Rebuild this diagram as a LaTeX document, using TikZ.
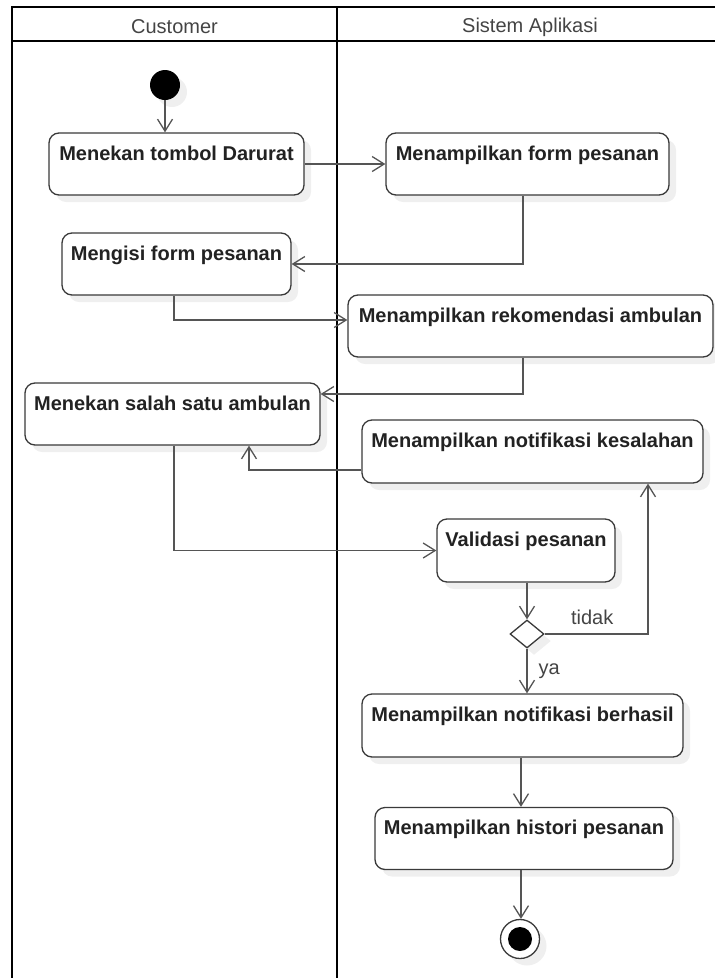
\documentclass[tikz,border=0pt]{standalone}
\usepackage{fontspec}
\setmainfont{Liberation Sans}
\usetikzlibrary{arrows.meta,shadows,shapes.geometric,calc}

\definecolor{laneclr}{HTML}{000000}
\definecolor{boxclr}{HTML}{3A3A3A}
\definecolor{lineclr}{HTML}{555555}
\definecolor{textclr}{HTML}{222222}
\definecolor{lblclr}{HTML}{444444}
\definecolor{shadowclr}{HTML}{EFEFEF}

\tikzset{
  lane/.style={draw=laneclr, line width=2.6bp},
  lanetitle/.style={font=\fontsize{20bp}{24bp}\selectfont, text=lblclr, inner sep=0pt},
  softshadow/.style={drop shadow={shadow xshift=7bp, shadow yshift=-7bp, fill=shadowclr, opacity=1}},
  activity/.style={draw=boxclr, line width=1.3bp, rounded corners=10bp, fill=white,
    minimum height=62bp, inner xsep=2bp, inner ysep=0pt,
    text height=27bp, text depth=35bp,
    font=\fontsize{20bp}{24bp}\selectfont\bfseries, text=textclr, softshadow},
  initial/.style={circle, fill=black, minimum size=30bp, inner sep=0pt, softshadow},
  final/.style={circle, draw=boxclr, line width=1.3bp, fill=white, minimum size=39bp, inner sep=0pt,
    softshadow, path picture={\fill[black] (path picture bounding box.center) circle (12bp);}},
  decision/.style={diamond, draw=boxclr, line width=1.3bp, fill=white, minimum width=34bp,
    minimum height=28bp, inner sep=0pt, softshadow},
  flow/.style={draw=lineclr, line width=1.3bp,
    -{Straight Barb[length=12bp,width=15bp,line width=1.3bp]}},
  guard/.style={font=\fontsize{20bp}{24bp}\selectfont, text=lblclr, inner sep=0pt},
}

\begin{document}
\begin{tikzpicture}[x=1bp, y=-1bp]
\useasboundingbox (0,0) rectangle (715,978);

% swimlanes
\draw[lane] (715,7) -- (12,7) -- (12,978);
\draw[lane] (12,41) -- (715,41);
\draw[lane] (337,7) -- (337,978);
\node[lanetitle] (hcust) at (174.5,27) {Customer};
\node[lanetitle] (hsys) at (530,27) {Sistem Aplikasi};

% activities
\node[initial] (start) at (165,85) {};
\node[activity, minimum width=255bp] (b1) at (176.5,164) {Menekan tombol Darurat};
\node[activity, minimum width=283bp] (b2) at (527.5,164) {Menampilkan form pesanan};
\node[activity, minimum width=229bp] (b3) at (176.5,264) {Mengisi form pesanan};
\node[activity, minimum width=365bp] (b4) at (530.5,326) {Menampilkan rekomendasi ambulan};
\node[activity, minimum width=295bp] (b5) at (172.5,414) {Menekan salah satu ambulan};
\node[activity, minimum width=341bp, minimum height=63bp] (b6) at (532.5,451.5) {Menampilkan notifikasi kesalahan};
\node[activity, minimum width=178bp, minimum height=63bp] (b7) at (526,550.5) {Validasi pesanan};
\node[decision] (dia) at (527,634) {};
\node[activity, minimum width=321bp, minimum height=63bp] (b8) at (522.5,725.5) {Menampilkan notifikasi berhasil};
\node[activity, minimum width=298bp, minimum height=61bp] (b9) at (524,838.5) {Menampilkan histori pesanan};
\node[final] (end) at (520,939) {};

% connector anchors
\coordinate (s1) at ($(b2.south)+(-4.5,0)$);
\coordinate (s3) at ($(b3.south)+(-2.5,0)$);
\coordinate (t4) at ($(b4.west)+(0,-6)$);
\coordinate (s4) at ($(b4.south)+(-7.5,0)$);
\coordinate (t5) at ($(b5.east)+(0,-20)$);
\coordinate (s6) at ($(b6.west)+(0,18.5)$);
\coordinate (t5b) at ($(b5.south)+(76.5,0)$);
\coordinate (s5) at ($(b5.south)+(1.5,0)$);
\coordinate (t6) at ($(b6.south)+(115.5,0)$);
\coordinate (s8) at ($(b8.south)+(-1.5,0)$);
\coordinate (s9) at ($(b9.south)+(-3,0)$);

% control flow
\draw[flow] (start.south) -- (start.south |- b1.north);
\draw[flow] (b1.east) -- (b2.west);
\draw[flow] (s1) |- (b3.east);
\draw[flow] (s3) |- (t4);
\draw[flow] (s4) |- (t5);
\draw[flow] (s6) -| (t5b);
\draw[flow] (s5) |- (b7.west);
\draw[flow] (b7.south -| dia.north) -- (dia.north);
\draw[flow] (dia.east) -| (t6)
  node[guard, pos=0.23, anchor=base, yshift=10bp] (gno) {tidak};
\draw[flow] (dia.south) -- (dia.south |- b8.north)
  node[guard, pos=0.57, anchor=base west, xshift=11bp] (gyes) {ya};
\draw[flow] (s8) -- (s8 |- b9.north);
\draw[flow] (s9) -- (s9 |- end.north);
\end{tikzpicture}
\end{document}
